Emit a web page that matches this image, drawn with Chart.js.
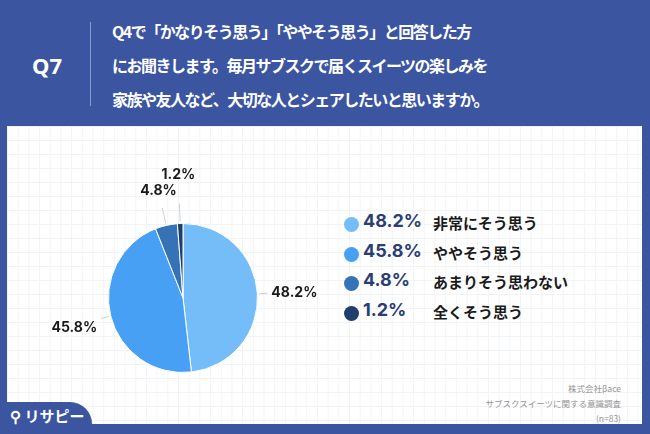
<!DOCTYPE html>
<html>
<head>
<meta charset="utf-8">
<script src="https://cdn.jsdelivr.net/npm/chart.js@4.4.0/dist/chart.umd.min.js"></script>
<style>
  html, body { margin: 0; padding: 0; }
  body {
    width: 650px; height: 434px; position: relative; overflow: hidden;
    background: #3b55a1;
    font-family: "Noto Sans CJK JP", "Noto Sans", sans-serif;
  }
  .panel {
    position: absolute; left: 7px; top: 126px; width: 635px; height: 298px;
    background-color: #ffffff;
    background-image:
      linear-gradient(to right, #f2f3f6 1px, transparent 1px),
      linear-gradient(to bottom, #f2f3f6 1px, transparent 1px);
    background-size: 10.7px 14px;
  }
  .qno {
    position: absolute; left: 0; width: 94px; top: 50px;
    text-align: center; color: #fff; font: bold 22px "Noto Sans", sans-serif;
  }
  .divider {
    position: absolute; left: 90px; top: 22px; width: 1px; height: 84px;
    background: #8c9ccb;
  }
  .title {
    position: absolute; left: 112px; top: 14px; color: #fff;
    font-weight: bold; font-size: 16px; line-height: 34px; letter-spacing: -1.5px;
    white-space: nowrap;
  }
  .tab {
    position: absolute; left: 0; top: 402px; width: 92px; height: 40px;
    background: #3b55a1; border-top-right-radius: 22px;
  }
  .logo {
    position: absolute; left: 10px; top: 405px; color: #fff;
    font-weight: bold; font-size: 15px;
  }
  .credit {
    position: absolute; right: 29px; top: 381px; text-align: right;
    color: #949494; font-size: 8.5px; line-height: 15px;
  }
  #legend {
    position: absolute; left: 343px; top: 210px;
  }
  .row { position: relative; height: 29.5px; }
  .dot {
    position: absolute; left: 1px; top: 7px; width: 15px; height: 15px; border-radius: 50%;
  }
  .pct {
    position: absolute; left: 20px; top: 0px; color: #2a3e74;
    font: bold 18px Inter, "Noto Sans", sans-serif;
  }
  .lab {
    position: absolute; left: 90px; top: 2px; color: #1a1a1a;
    font-weight: bold; font-size: 15px; white-space: nowrap;
  }
  #chart { position: absolute; left: 0; top: 0; }
</style>
</head>
<body>
<div class="panel"></div>
<div class="qno">Q7</div>
<div class="divider"></div>
<div class="title">Q4で「かなりそう思う」「ややそう思う」と回答した方<br>にお聞きします。毎月サブスクで届くスイーツの楽しみを<br>家族や友人など、大切な人とシェアしたいと思いますか。</div>
<div class="tab"></div>
<div class="logo">⚲ リサピー</div>
<div class="credit">株式会社βace<br>サブスクスイーツに関する意識調査<br>(n=83)</div>
<div id="legend"></div>
<canvas id="chart" width="650" height="434"></canvas>
<script>
var categories = ['非常にそう思う', 'ややそう思う', 'あまりそう思わない', '全くそう思う'];
var values = [48.2, 45.8, 4.8, 1.2];
var colors = ['#74bdf8', '#48a0f5', '#3573b6', '#1f3f6f'];
// leader line length and label distance outside the pie edge
var leaderLen = [10, 10, 18, 20];
var labelDist = [14, 14, 35, 49];

var legend = document.getElementById('legend');
categories.forEach(function (c, i) {
    var row = document.createElement('div');
    row.className = 'row';
    row.innerHTML = '<span class="dot" style="background:' + colors[i] + '"></span>' +
        '<span class="pct">' + values[i].toFixed(1) + '%</span>' +
        '<span class="lab">' + c + '</span>';
    legend.appendChild(row);
});

var outLabels = {
    id: 'outLabels',
    afterDatasetsDraw: function (chart) {
        var ctx = chart.ctx;
        var meta = chart.getDatasetMeta(0);
        ctx.save();
        meta.data.forEach(function (arc, i) {
            var a = (arc.startAngle + arc.endAngle) / 2;
            var r = arc.outerRadius;
            var cx = arc.x, cy = arc.y;
            var cos = Math.cos(a), sin = Math.sin(a);
            ctx.strokeStyle = '#d0d0d0';
            ctx.lineWidth = 1;
            ctx.beginPath();
            ctx.moveTo(cx + cos * (r + 2), cy + sin * (r + 2));
            ctx.lineTo(cx + cos * (r + leaderLen[i]), cy + sin * (r + leaderLen[i]));
            ctx.stroke();
            var lx = cx + cos * (r + labelDist[i]);
            var ly = cy + sin * (r + labelDist[i]);
            ctx.fillStyle = '#1a1a1a';
            ctx.font = 'bold 14px Inter, "Noto Sans", sans-serif';
            ctx.textBaseline = 'middle';
            if (cos > 0.5) ctx.textAlign = 'left';
            else if (cos < -0.5) { ctx.textAlign = 'right'; ly += 8; }
            else { ctx.textAlign = 'center'; }
            ctx.fillText(values[i].toFixed(1) + '%', lx, ly);
        });
        ctx.restore();
    }
};

new Chart(document.getElementById('chart'), {
    type: 'pie',
    data: {
        labels: categories,
        datasets: [{
            data: values,
            backgroundColor: colors,
            borderColor: '#ffffff',
            borderWidth: 1
        }]
    },
    options: {
        responsive: false,
        animation: false,
        layout: { padding: { left: 108, right: 392, top: 223, bottom: 61 } },
        plugins: { legend: { display: false }, tooltip: { enabled: false } }
    },
    plugins: [outLabels]
});
</script>
</body>
</html>
